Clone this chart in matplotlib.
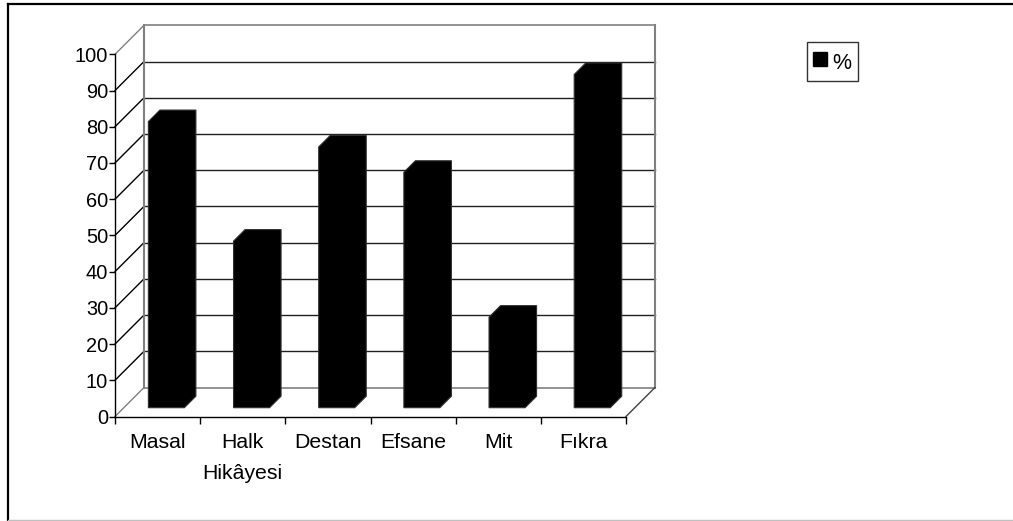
import numpy as np
import matplotlib
matplotlib.use("Agg")
import matplotlib.pyplot as plt
from matplotlib.patches import Polygon
from matplotlib.lines import Line2D

plt.rcParams['font.family'] = ['Liberation Sans', 'DejaVu Sans']

categories = ['Masal', 'Halk\nHikâyesi', 'Destan', 'Efsane', 'Mit', 'Fıkra']
values = [79, 46, 72, 65, 25, 92]
yticks = list(range(0, 101, 10))
series_name = '%'

W, H = 1013, 521
fig = plt.figure(figsize=(W / 100, H / 100), dpi=100)
ax = fig.add_axes([115 / W, (H - 416.5) / H, 511 / W, 362.2 / H])
ax.set_xlim(0, len(categories))
ax.set_ylim(0, 100)
ax.patch.set_visible(False)

# pseudo-3d: shift points back by d pixels up and to the right
def at_depth(x, y, d):
    pts = ax.transData.transform(np.column_stack([np.atleast_1d(x), np.atleast_1d(y)]).astype(float))
    pts += d
    return ax.transData.inverted().transform(pts)

DEPTH = 29
wall = '#808080'
n = len(categories)

# back wall gridlines
for v in yticks:
    p = at_depth([0, n], [v, v], DEPTH)
    col = wall if v in (0, 100) else '#202020'
    ax.plot(p[:, 0], p[:, 1], color=col, lw=1.2 if v in (0, 100) else 1.0,
            clip_on=False, zorder=1)
    # side wall diagonals
    b = at_depth(0, v, DEPTH)
    ax.plot([0, b[0, 0]], [v, b[0, 1]],
            color=wall if v in (0, 100) else 'black', lw=1.0, clip_on=False, zorder=1)

# back wall left / right edges, floor right edge
for x in (0, n):
    p = at_depth([x, x], [0, 100], DEPTH)
    ax.plot(p[:, 0], p[:, 1], color=wall, lw=1.5, clip_on=False, zorder=1)
b = at_depth(n, 0, DEPTH)
ax.plot([n, b[0, 0]], [0, b[0, 1]], color='#404040', lw=1.0, clip_on=False, zorder=1)

# bars as solid prisms
bar_w = 0.423
d1, d2 = 8.8, 20.3
for i, v in enumerate(values):
    xl, xr = i + 0.5 - bar_w / 2, i + 0.5 + bar_w / 2
    f = at_depth([xl, xr, xl], [0, 0, v], d1)
    b = at_depth([xr, xr, xl], [0, v, v], d2)
    verts = [f[0], f[1], b[0], b[1], b[2], f[2]]
    ax.add_patch(Polygon(verts, closed=True, facecolor='black', edgecolor='#303030',
                         lw=0.8, clip_on=False, zorder=3))

# front axes
for s in ('top', 'right'):
    ax.spines[s].set_visible(False)
for s in ('left', 'bottom'):
    ax.spines[s].set_color('black')
    ax.spines[s].set_linewidth(1.0)
    ax.spines[s].set_zorder(4)

ax.set_yticks(yticks)
ax.set_yticklabels([str(t) for t in yticks])
ax.set_xticks(range(n + 1))
ax.set_xticklabels([])
ax.set_xticks(np.arange(n) + 0.5, minor=True)
ax.set_xticklabels(categories, minor=True, linespacing=1.8)
ax.tick_params(axis='y', direction='out', length=4, width=1, pad=1, labelsize=14.4)
ax.tick_params(axis='x', which='major', direction='out', length=5, width=1)
ax.tick_params(axis='x', which='minor', length=0, pad=12, labelsize=15.3)

# legend
handle = Line2D([], [], ls='none', marker='s', markersize=9.5,
                markerfacecolor='black', markeredgecolor='black')
leg = fig.legend(handles=[handle], labels=[series_name],
                 loc='upper left', bbox_to_anchor=(807 / W, 1 - 42 / H),
                 fontsize=15.5, frameon=True, fancybox=False, edgecolor='black',
                 handlelength=0.5, handleheight=1.35, handletextpad=0.3,
                 borderpad=0.35, borderaxespad=0)
leg.get_frame().set_linewidth(1.0)

# outer chart border
fig.add_artist(Line2D([8 / W, 8 / W], [0, 1 - 4 / H], color='black', lw=1.6))
fig.add_artist(Line2D([8 / W, 1], [1 - 4 / H, 1 - 4 / H], color='black', lw=1.6))
fig.add_artist(Line2D([8 / W, 1], [1.5 / H, 1.5 / H], color='#c0c0c0', lw=1.0))

fig.savefig('out.png', dpi=100)
